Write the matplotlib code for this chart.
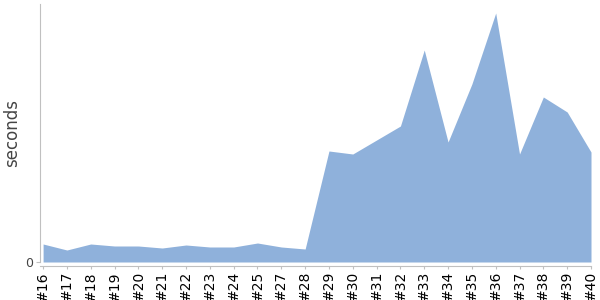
import matplotlib
matplotlib.use("Agg")
import matplotlib.pyplot as plt
import numpy as np

# build labels and run times (seconds)
builds = ["#16", "#17", "#18", "#19", "#20", "#21", "#22", "#23", "#24", "#25",
          "#27", "#28", "#29", "#30", "#31", "#32", "#33", "#34", "#35", "#36",
          "#37", "#38", "#39", "#40"]
seconds = [18, 12, 18, 16, 16, 14, 17, 15, 15, 19,
           15, 13, 111, 108, 122, 136, 212, 120, 178, 249,
           108, 165, 150, 110]

fig = plt.figure(figsize=(6, 3), dpi=100)
ax = fig.add_axes([40 / 600, 38 / 300, 551 / 600, 258 / 300])

x = np.arange(len(builds))
ax.fill_between(x, 0, seconds, color="#8fb1db", linewidth=0)

ax.set_xlim(-0.13, len(builds) - 1)
ax.set_ylim(0, 258)
ax.set_xticks(x)
ax.set_xticklabels(builds, fontsize=6.5)
ax.set_yticks([0])
ax.set_yticklabels(["0"], fontsize=9)
ax.set_ylabel("seconds", fontsize=12, color="#444444")
ax.yaxis.set_label_coords(-19 / 551, 0.5)

for s in ("top", "right"):
    ax.spines[s].set_visible(False)
ax.spines["left"].set_color("#c0c0c0")
ax.spines["bottom"].set_color("#c0c0c0")
ax.spines["bottom"].set_position(("outward", 3))
ax.tick_params(axis="x", colors="#c0c0c0", labelcolor="black", length=2, pad=1.5,
               labelrotation=90)
ax.tick_params(axis="y", colors="#c0c0c0", labelcolor="#444444", length=3, pad=2)

fig.savefig("out.png", dpi=100)
